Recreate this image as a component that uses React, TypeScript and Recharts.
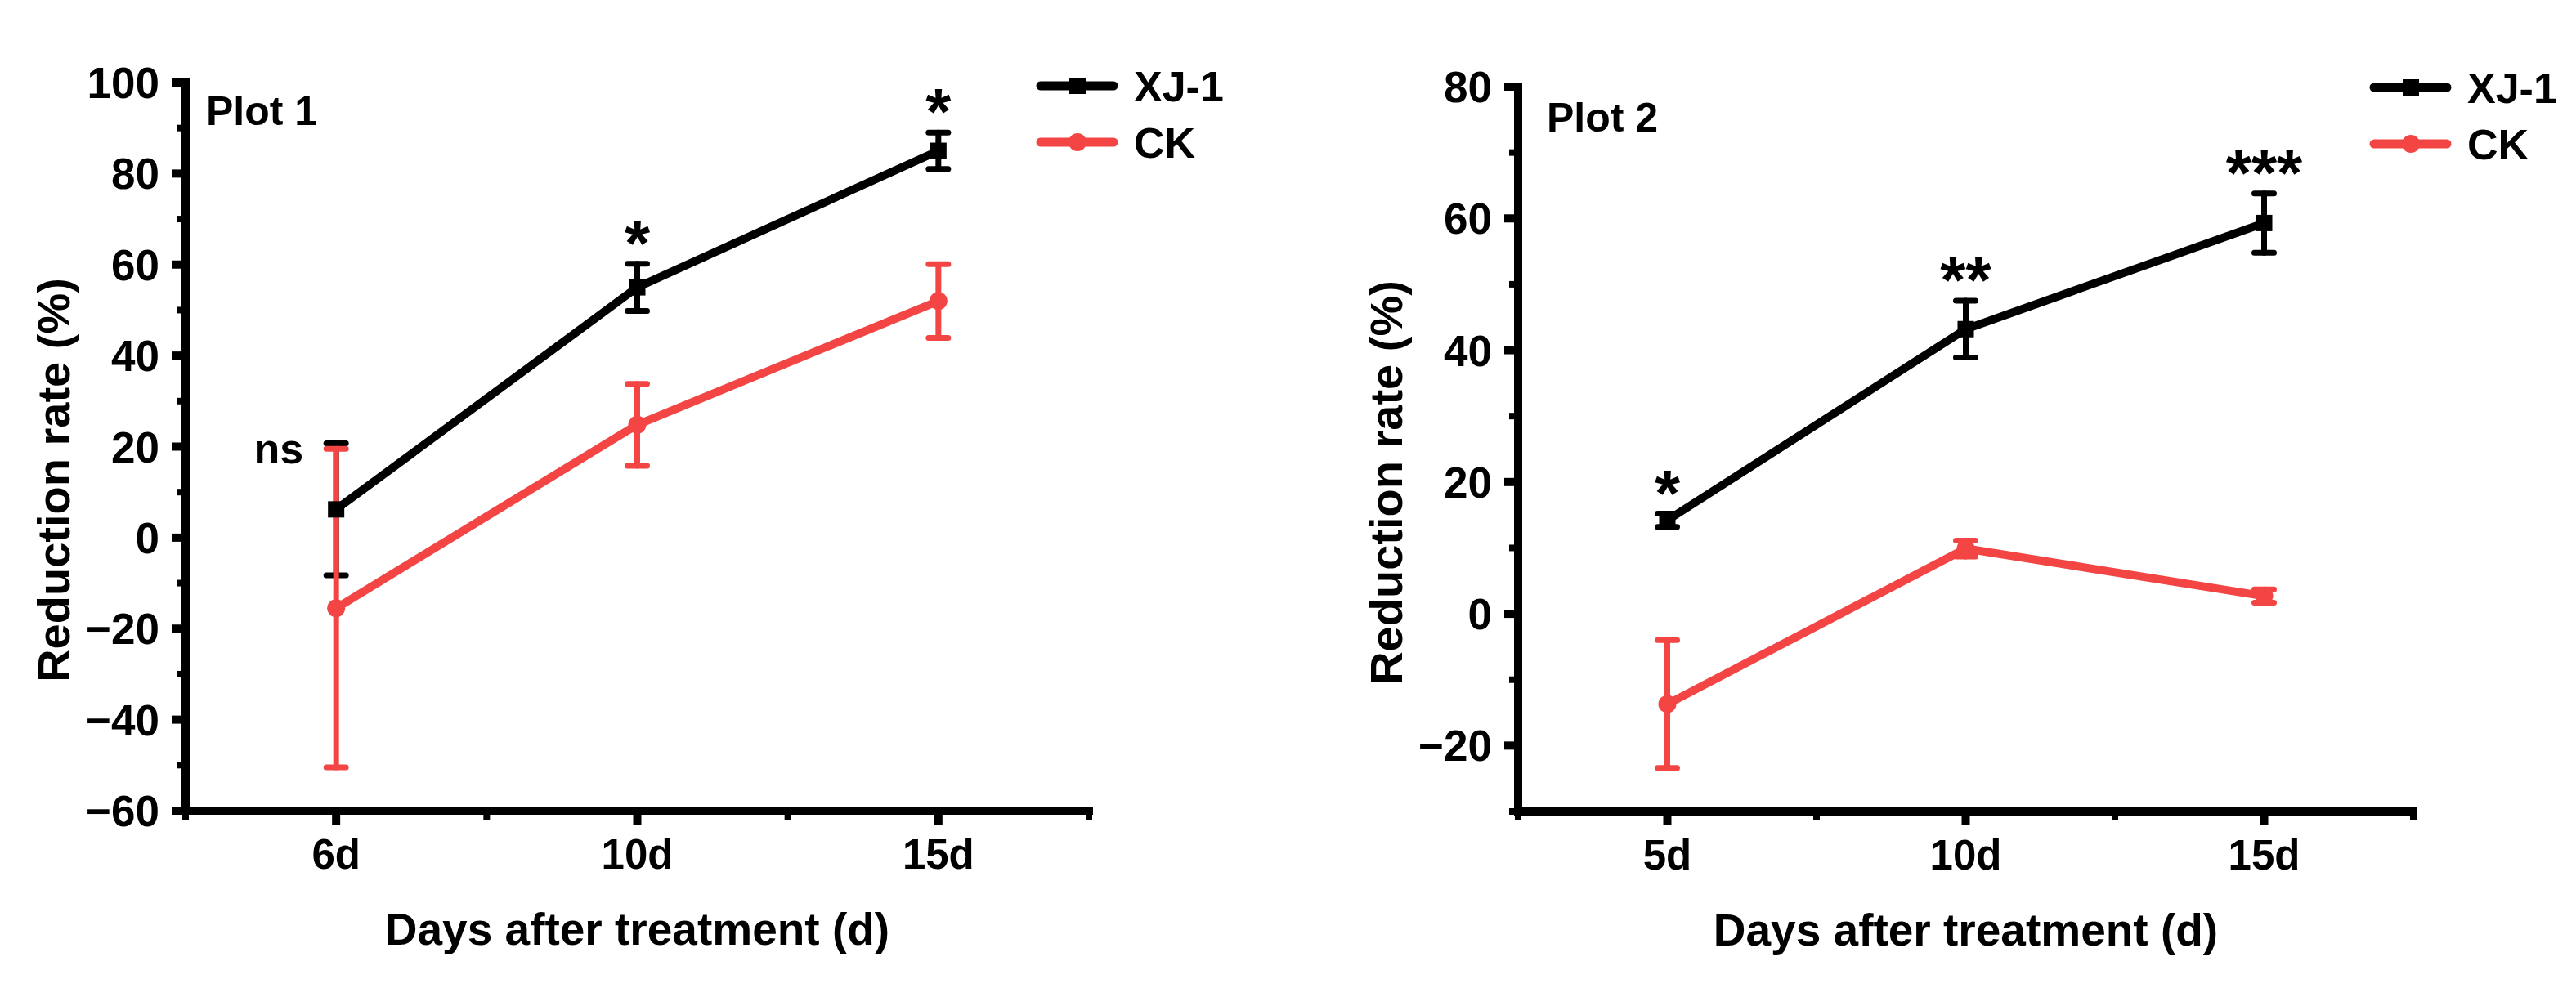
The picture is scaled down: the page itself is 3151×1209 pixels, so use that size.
import React from 'react'
import { LineChart, Line, XAxis, YAxis, ErrorBar, LabelList, Legend } from 'recharts'

const FONT = 'Arial, "Liberation Sans", Helvetica, sans-serif'
const BLACK = '#000000'
const RED = '#f44545'

// Plot 1
const days1 = ['6d', '10d', '15d']
const xj1 = [6.2, 55, 85]
const xj1Err = [14.5, 5.2, 4]
const ck1 = [-15.5, 24.8, 52]
const ck1Err = [35, 9, 8.1]
const sig1 = ['ns', '*', '*']
const yTicks1 = [-60, -50, -40, -30, -20, -10, 0, 10, 20, 30, 40, 50, 60, 70, 80, 90, 100]

// Plot 2
const days2 = ['5d', '10d', '15d']
const xj2 = [14.2, 43.2, 59.3]
const xj2Err = [1, 4.3, 4.5]
const ck2 = [-13.7, 9.9, 2.7]
const ck2Err = [9.7, 1.2, 1]
const sig2 = ['*', '**', '***']
const yTicks2 = [-30, -20, -10, 0, 10, 20, 30, 40, 50, 60, 70, 80]

const xTicks = [0.5, 1, 1.5, 2, 2.5, 3, 3.5]
const seriesOrder = ['XJ-1', 'CK']

const buildRows = (days: string[], xj: number[], xjErr: number[], ck: number[], ckErr: number[], sig: string[]) =>
  days.map((d, i) => ({
    x: i + 1,
    day: d,
    xj: xj[i],
    xjErr: xjErr[i],
    ck: ck[i],
    ckErr: ckErr[i],
    top: xj[i] + xjErr[i],
    sig: sig[i],
  }))

const rows1 = buildRows(days1, xj1, xj1Err, ck1, ck1Err, sig1)
const rows2 = buildRows(days2, xj2, xj2Err, ck2, ck2Err, sig2)

const fmt = (v: number) => (v < 0 ? '\u2212' + Math.abs(v) : String(v))

const XTick = (p: any) => {
  const { x, y, payload, days } = p
  const v = payload.value
  const major = Number.isInteger(v)
  return (
    <g>
      <line x1={x} x2={x} y1={y} y2={y + (major ? 17 : 11)} stroke={BLACK} strokeWidth={major ? 10 : 8} />
      {major && (
        <text x={x} y={y + 71} textAnchor="middle" fontFamily={FONT} fontWeight="bold" fontSize={51} fill={BLACK}>
          {days[v - 1]}
        </text>
      )}
    </g>
  )
}

const YTick = (p: any) => {
  const { x, y, payload } = p
  const v = payload.value
  const major = v % 20 === 0
  return (
    <g>
      <line x1={x} x2={x - (major ? 17 : 11)} y1={y} y2={y} stroke={BLACK} strokeWidth={major ? 10 : 8} />
      {major && (
        <text x={x - 32} y={y} dy="0.36em" textAnchor="end" fontFamily={FONT} fontWeight="bold" fontSize={53} fill={BLACK}>
          {fmt(v)}
        </text>
      )}
    </g>
  )
}

const renderSig = (p: any) => {
  const { x, y, value } = p
  if (value === 'ns') {
    return (
      <text x={x - 40} y={y + 24} textAnchor="end" fontFamily={FONT} fontWeight="bold" fontSize={52} fill={BLACK}>
        ns
      </text>
    )
  }
  return (
    <text x={x} y={y + 2} textAnchor="middle" fontFamily={FONT} fontWeight="bold" fontSize={80} fill={BLACK}>
      {value}
    </text>
  )
}

const squareDot = (p: any) => (
  <rect key={`s-${p.index}`} x={p.cx - 10} y={p.cy - 10} width={20} height={20} fill={BLACK} />
)
const circleDot = (p: any) => <circle key={`c-${p.index}`} cx={p.cx} cy={p.cy} r={11} fill={RED} />

const renderLegend = (props: any) => {
  const items = (props.payload || [])
    .filter((it: any) => it.type !== 'none')
    .sort((a: any, b: any) => seriesOrder.indexOf(a.value) - seriesOrder.indexOf(b.value))
  return (
    <svg width={260} height={150}>
      {items.map((it: any, i: number) => {
        const cy = 45 + i * 69
        const color = it.color
        return (
          <g key={it.value}>
            <line x1={6} x2={95} y1={cy} y2={cy} stroke={color} strokeWidth={11} strokeLinecap="round" />
            {it.value === 'XJ-1' ? (
              <rect x={41} y={cy - 10} width={20} height={20} fill={color} />
            ) : (
              <circle cx={51} cy={cy} r={11} fill={color} />
            )}
            <text x={120} y={cy} dy="0.36em" fontFamily={FONT} fontWeight="bold" fontSize={52} fill={BLACK}>
              {it.value}
            </text>
          </g>
        )
      })}
    </svg>
  )
}

interface PanelProps {
  rows: any[]
  days: string[]
  yDomain: [number, number]
  yTicks: number[]
  title: string
  width: number
  margin: { top: number; right: number; bottom: number; left: number }
  titleDx: number
  titleDy: number
  legendPos: { left: number; top: number }
}

const Panel = ({ rows, days, yDomain, yTicks, title, width, margin, titleDx, titleDy, legendPos }: PanelProps) => {
  const yTitle = (p: any) => {
    const vb = p.viewBox
    const ax = vb.x + vb.width
    const cy = vb.y + vb.height / 2 + 41
    const tx = ax - 162
    return (
      <g>
        <text
          x={tx}
          y={cy}
          transform={`rotate(-90, ${tx}, ${cy})`}
          textAnchor="middle"
          dy="0.36em"
          fontFamily={FONT}
          fontWeight="bold"
          fontSize={56}
          fill={BLACK}
        >
          Reduction rate (%)
        </text>
        <text x={ax + titleDx} y={vb.y + titleDy} fontFamily={FONT} fontWeight="bold" fontSize={50} fill={BLACK}>
          {title}
        </text>
      </g>
    )
  }
  const xTitle = (p: any) => {
    const vb = p.viewBox
    return (
      <text
        x={vb.x + vb.width / 2}
        y={vb.y + 164}
        textAnchor="middle"
        fontFamily={FONT}
        fontWeight="bold"
        fontSize={55}
        fill={BLACK}
      >
        Days after treatment (d)
      </text>
    )
  }
  return (
    <LineChart width={width} height={1209} data={rows} margin={margin}>
      <XAxis
        dataKey="x"
        type="number"
        domain={[0.5, 3.5]}
        ticks={xTicks}
        interval={0}
        height={100}
        tickSize={0}
        tickMargin={0}
        tickLine={false}
        axisLine={{ stroke: BLACK, strokeWidth: 10, strokeLinecap: 'square' }}
        tick={(p: any) => <XTick {...p} days={days} />}
        label={{ value: 'Days after treatment (d)', content: xTitle }}
      />
      <YAxis
        type="number"
        domain={yDomain}
        ticks={yTicks}
        interval={0}
        width={100}
        tickSize={0}
        tickMargin={0}
        tickLine={false}
        axisLine={{ stroke: BLACK, strokeWidth: 10, strokeLinecap: 'square' }}
        tick={(p: any) => <YTick {...p} />}
        label={{ value: 'Reduction rate (%)', content: yTitle }}
      />
      <Legend
        verticalAlign="middle"
        align="center"
        content={renderLegend}
        wrapperStyle={{ left: legendPos.left, top: legendPos.top, width: 260, height: 150 }}
      />
      <Line
        type="linear"
        dataKey="xj"
        name="XJ-1"
        stroke={BLACK}
        strokeWidth={10}
        dot={squareDot}
        activeDot={false}
        isAnimationActive={false}
      >
        <ErrorBar dataKey="xjErr" direction="y" width={12} strokeWidth={7} stroke={BLACK} strokeLinecap="round" />
      </Line>
      <Line
        type="linear"
        dataKey="ck"
        name="CK"
        stroke={RED}
        strokeWidth={10}
        dot={circleDot}
        activeDot={false}
        isAnimationActive={false}
      >
        <ErrorBar dataKey="ckErr" direction="y" width={12} strokeWidth={7} stroke={RED} strokeLinecap="round" />
      </Line>
      <Line
        type="linear"
        dataKey="top"
        stroke="none"
        dot={false}
        activeDot={false}
        legendType="none"
        isAnimationActive={false}
      >
        <LabelList dataKey="sig" content={renderSig} />
      </Line>
    </LineChart>
  )
}

export default function App() {
  return (
    <div style={{ position: 'absolute', left: 0, top: 0, width: 3151, height: 1209, background: '#ffffff' }}>
      <div style={{ position: 'absolute', left: 0, top: 0 }}>
        <Panel
          rows={rows1}
          days={days1}
          yDomain={[-60, 100]}
          yTicks={yTicks1}
          title="Plot 1"
          width={1575}
          margin={{ top: 101, right: 243, bottom: 117, left: 127 }}
          titleDx={25}
          titleDy={52}
          legendPos={{ left: 1267, top: 60 }}
        />
      </div>
      <div style={{ position: 'absolute', left: 1575, top: 0 }}>
        <Panel
          rows={rows2}
          days={days2}
          yDomain={[-30, 80]}
          yTicks={yTicks2}
          title="Plot 2"
          width={1576}
          margin={{ top: 106, right: 199, bottom: 116, left: 182 }}
          titleDx={35}
          titleDy={55}
          legendPos={{ left: 1323, top: 62 }}
        />
      </div>
    </div>
  )
}
